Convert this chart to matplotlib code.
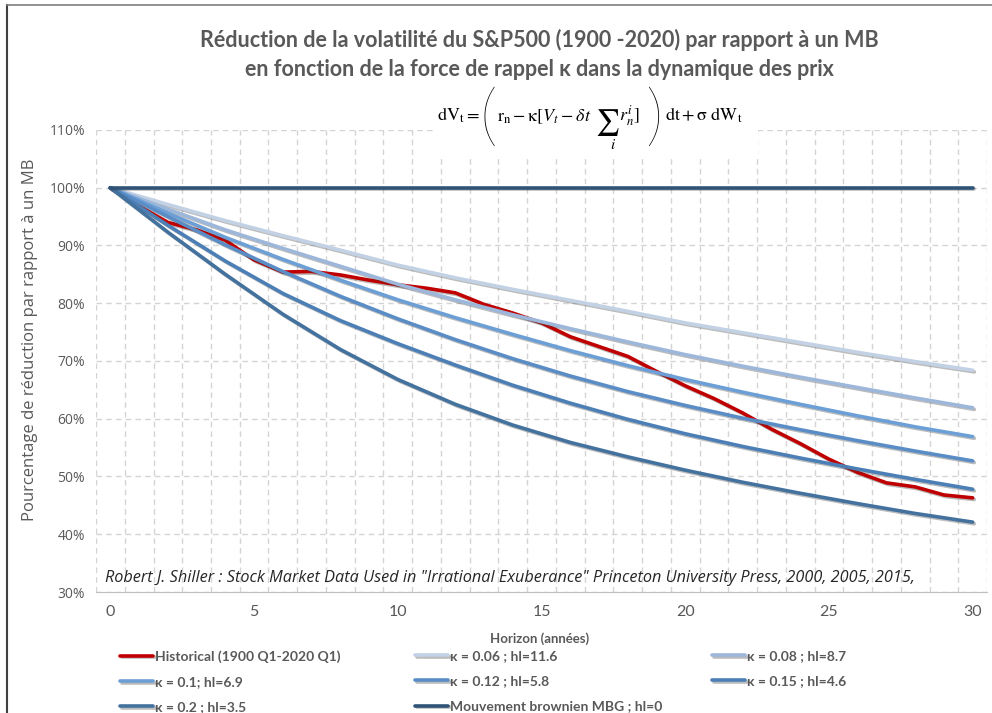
import matplotlib
matplotlib.use("Agg")
import matplotlib.pyplot as plt
import matplotlib.patheffects as pe
from matplotlib.ticker import FixedLocator, FuncFormatter
from matplotlib.lines import Line2D
from matplotlib.patches import Rectangle
import numpy as np

years = [0, 2, 4, 6, 8, 10, 12, 14, 16, 18, 20, 22, 24, 26, 28, 30]
k006 = [100, 97.1, 94.3, 91.7, 89.2, 86.6, 84.4, 82.4, 80.5, 78.6, 76.6, 74.9, 73.2, 71.5, 69.9, 68.4]
k008 = [100, 96.3, 92.7, 89.5, 86.4, 83.3, 80.6, 78.0, 75.6, 73.3, 71.1, 69.1, 67.2, 65.4, 63.6, 61.9]
k010 = [100, 95.6, 91.4, 87.6, 84.0, 80.6, 77.5, 74.6, 71.8, 69.2, 66.8, 64.6, 62.5, 60.5, 58.6, 56.9]
k012 = [100, 95.0, 90.1, 85.5, 81.2, 77.3, 73.7, 70.4, 67.4, 64.7, 62.3, 60.1, 58.1, 56.2, 54.4, 52.7]
k015 = [100, 93.5, 87.3, 81.7, 77.0, 73.0, 69.3, 65.8, 62.7, 59.9, 57.4, 55.2, 53.2, 51.3, 49.5, 47.8]
k020 = [100, 92.3, 85.0, 78.1, 72.0, 66.8, 62.5, 58.9, 55.9, 53.4, 51.1, 49.0, 47.1, 45.3, 43.6, 42.1]

hist_years = list(range(31))
hist = [100, 96.8, 94.0, 92.7, 90.9, 87.5, 85.4, 85.5, 84.9, 84.0, 83.2, 82.6, 81.8, 79.8,
        78.3, 76.6, 74.2, 72.5, 70.8, 68.2, 65.7, 63.5, 61.0, 58.2, 55.7, 53.0, 50.7, 48.9,
        48.2, 46.8, 46.3]

mbg_years = [0, 30]
mbg = [100, 100]

labels = ["Historical (1900 Q1-2020 Q1)", "κ = 0.06 ; hl=11.6", "κ = 0.08 ; hl=8.7",
          "κ = 0.1; hl=6.9", "κ = 0.12 ; hl=5.8", "κ = 0.15 ; hl=4.6",
          "κ = 0.2 ; hl=3.5", "Mouvement brownien MBG ; hl=0"]
colors = ["#C00000", "#C3D1E5", "#9CB7DA", "#6C9FD6", "#5A8DC6", "#4B7FB6", "#44729F", "#2E5376"]

plt.rcParams['font.family'] = ['Lato', 'DejaVu Sans']
grey = "#595959"
W, H = 992, 713

fig = plt.figure(figsize=(9.92, 7.13), dpi=100)
ax = fig.add_axes([0.0968, 0.1697, 0.8982, 0.648])

shadow = [pe.SimpleLineShadow(offset=(1.2, -1.2), alpha=0.35, shadow_color="#404040"), pe.Normal()]
series = [(hist_years, hist), (years, k006), (years, k008), (years, k010), (years, k012),
          (years, k015), (years, k020), (mbg_years, mbg)]
lines = []
for (xs, ys), lab, col in zip(series, labels, colors):
    ln, = ax.plot(xs, ys, color=col, lw=2.6, label=lab, path_effects=shadow,
                  solid_capstyle='round', zorder=3)
    lines.append(ln)

ax.set_xlim(-0.5, 30.5)
ax.set_ylim(30, 110)
ax.xaxis.set_major_locator(FixedLocator(np.arange(0, 31, 5)))
ax.xaxis.set_minor_locator(FixedLocator(np.arange(-0.5, 31, 1)))
ax.yaxis.set_major_locator(FixedLocator(np.arange(30, 111, 10)))
ax.yaxis.set_major_formatter(FuncFormatter(lambda v, p: f"{v:.0f}%"))
ax.grid(which='minor', axis='x', color='#D4D4D4', ls=(0, (4, 3)), lw=1)
ax.grid(which='major', axis='y', color='#D4D4D4', ls=(0, (4, 3)), lw=1)
ax.tick_params(which='both', length=0)
ax.tick_params(axis='x', pad=9, labelsize=11.5, labelcolor=grey)
ax.tick_params(axis='y', pad=8, labelcolor=grey)
for lab in ax.get_yticklabels():
    lab.set_family('Open Sans')
    lab.set_fontsize(10)
for s in ['left', 'right', 'top']:
    ax.spines[s].set_visible(False)
ax.spines['bottom'].set_color('#BFBFBF')

ax.text(-0.2, 32.5, 'Robert J. Shiller : Stock Market Data Used in "Irrational Exuberance" '
        'Princeton University Press, 2000, 2005, 2015,', family='Open Sans', style='italic',
        fontsize=11.7, color='#262626', va='center', ha='left')

fig.text(0.544, 1 - 40 / H, "Réduction de la volatilité du S&P500 (1900 -2020) par rapport à un MB",
         ha='center', va='center', fontsize=15.5, weight='bold', color=grey)
fig.text(0.544, 1 - 69 / H, "en fonction de la force de rappel κ dans la dynamique des prix",
         ha='center', va='center', fontsize=15.5, weight='bold', color=grey)

# equation, laid out in pieces on a white box
fig.add_artist(Rectangle((433 / W, 1 - 157 / H), (758 - 433) / W, 78 / H, transform=fig.transFigure,
                         facecolor='white', edgecolor='none', zorder=2))
eq = dict(math_fontfamily='stix', color='black', zorder=3)
base = 1 - 121 / H
fig.text(437 / W, base, r'$\mathrm{dV_t} =$', ha='left', va='baseline', fontsize=13, **eq)
fig.text(479 / W, 1 - 119 / H, '(', ha='left', va='center', fontsize=50, weight='light',
         family='Lato', color='black', zorder=3)
fig.text(497 / W, base, r'$\mathrm{r_n} - \mathrm{κ}[V_t - \delta t$', ha='left', va='baseline',
         fontsize=13, **eq)
fig.text(595 / W, 1 - 122 / H, r'$\sum$', ha='left', va='center', fontsize=19, **eq)
fig.text(613 / W, 1 - 145 / H, r'$i$', ha='center', va='center', fontsize=11, **eq)
fig.text(619 / W, base, r'$r_n^i]$', ha='left', va='baseline', fontsize=13, **eq)
fig.text(663 / W, 1 - 119 / H, ')', ha='right', va='center', fontsize=50, weight='light',
         family='Lato', color='black', zorder=3)
fig.text(665 / W, base, r'$\mathrm{dt} + \mathrm{σ}\ \mathrm{dW_t}$', ha='left', va='baseline',
         fontsize=13, **eq)

fig.text(30 / W, 1 - 340 / H, "Pourcentage de réduction par rapport à un MB", rotation=90,
         ha='center', va='center', family='Open Sans', fontsize=12, color=grey)
fig.text(0.544, 1 - 639 / H, "Horizon (années)", ha='center', va='center', fontsize=9.5,
         weight='bold', color=grey)

cols = [[0, 3, 6], [1, 4, 7], [2, 5]]
xpos = [120 / W, 415 / W, 712 / W]
for idx, x0 in zip(cols, xpos):
    fig.legend([lines[i] for i in idx], [labels[i] for i in idx], loc='upper left',
               bbox_to_anchor=(x0, 1 - 650 / H), frameon=False, borderpad=0, borderaxespad=0,
               handlelength=2.4, handletextpad=0.1, labelspacing=0.95,
               prop={'size': 10, 'weight': 'bold', 'family': 'Lato'}, labelcolor=grey)

fig.add_artist(Line2D([7 / W, 7 / W], [0, 1 - 5 / H], transform=fig.transFigure, color='#404040', lw=1.5))
fig.add_artist(Line2D([7 / W, 1], [1 - 5 / H, 1 - 5 / H], transform=fig.transFigure, color='#7F7F7F', lw=1.2))

fig.savefig("out.png", dpi=100)
